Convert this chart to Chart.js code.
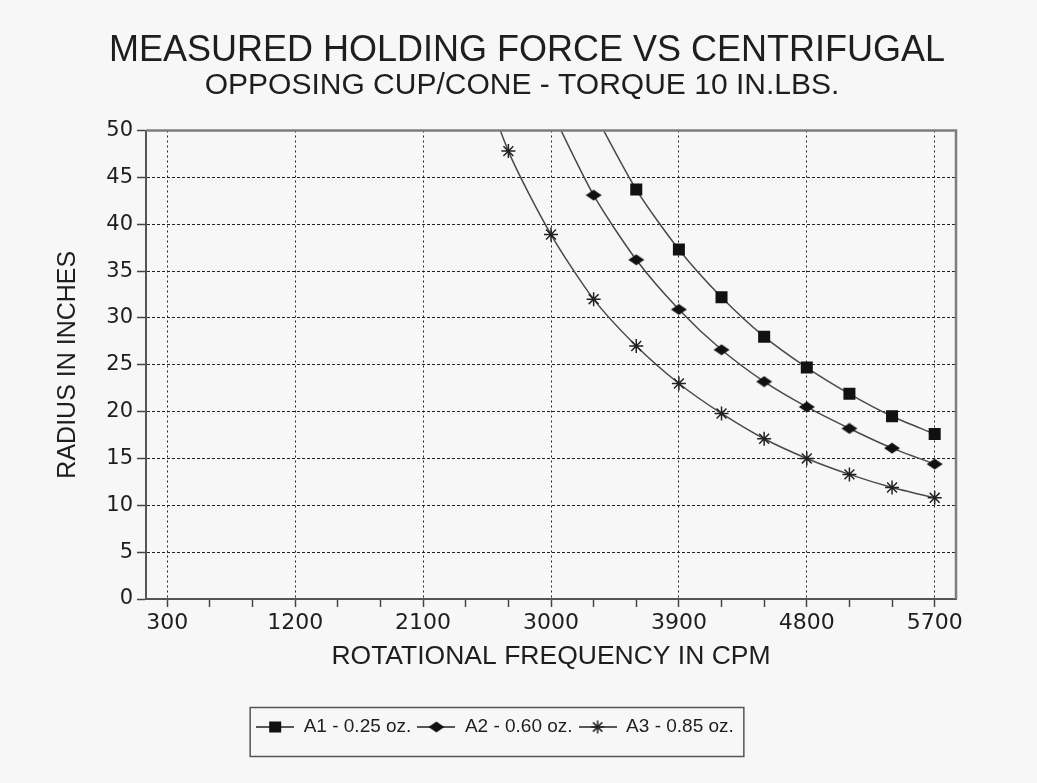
<!DOCTYPE html>
<html>
<head>
<meta charset="utf-8">
<title>Measured holding force vs centrifugal</title>
<script src="https://cdn.jsdelivr.net/npm/chart.js@4.4.1/dist/chart.umd.min.js"></script>
<style>
  html, body { margin: 0; padding: 0; background: #f7f7f7; overflow: hidden; }
  #wrap { width: 1037px; height: 783px; }
</style>
</head>
<body>
<div id="wrap"><canvas id="forceChart"></canvas></div>
<script>
// values
const freqA1 = [3300, 3600, 3900, 4200, 4500, 4800, 5100, 5400, 5700];
const radiusA1 = [52.0, 43.7, 37.3, 32.2, 28.0, 24.7, 21.9, 19.5, 17.6];

const freqA2 = [3000, 3300, 3600, 3900, 4200, 4500, 4800, 5100, 5400, 5700];
const radiusA2 = [52.2, 43.1, 36.2, 30.9, 26.6, 23.2, 20.5, 18.2, 16.1, 14.4];

const freqA3 = [2400, 2700, 3000, 3300, 3600, 3900, 4200, 4500, 4800, 5100, 5400, 5700];
const radiusA3 = [60.5, 47.8, 38.9, 32.0, 27.0, 23.0, 19.8, 17.1, 15.0, 13.3, 11.9, 10.8];

const seriesLabels = ["A1 - 0.25 oz.", "A2 - 0.60 oz.", "A3 - 0.85 oz."];
const xTickLabels = [300, 1200, 2100, 3000, 3900, 4800, 5700];
const xMinorStep = 300;
const yTickLabels = [0, 5, 10, 15, 20, 25, 30, 35, 40, 45, 50];

const titleText = "MEASURED HOLDING FORCE VS CENTRIFUGAL";
const subtitleText = "OPPOSING CUP/CONE - TORQUE 10 IN.LBS.";

const INK = "#1e1e1e";
const LINE = "#4a4a4a";

function drawSquare(ctx, cx, cy) {
  ctx.fillStyle = "#111";
  ctx.fillRect(cx - 6, cy - 5.5, 12, 11);
}

function drawDiamondCross(ctx, cx, cy) {
  ctx.fillStyle = "#111";
  ctx.beginPath();
  ctx.moveTo(cx - 8, cy);
  ctx.lineTo(cx - 3.5, cy - 3);
  ctx.lineTo(cx, cy - 5.5);
  ctx.lineTo(cx + 3.5, cy - 3);
  ctx.lineTo(cx + 8, cy);
  ctx.lineTo(cx + 3.5, cy + 3);
  ctx.lineTo(cx, cy + 5.5);
  ctx.lineTo(cx - 3.5, cy + 3);
  ctx.closePath();
  ctx.fill();
}

function drawStar(ctx, cx, cy) {
  const r = 6.5;
  const d = r * Math.SQRT1_2;
  ctx.strokeStyle = "#222";
  ctx.lineWidth = 1.5;
  ctx.beginPath();
  ctx.moveTo(cx - r, cy); ctx.lineTo(cx + r, cy);
  ctx.moveTo(cx, cy - r); ctx.lineTo(cx, cy + r);
  ctx.moveTo(cx - d, cy - d); ctx.lineTo(cx + d, cy + d);
  ctx.moveTo(cx - d, cy + d); ctx.lineTo(cx + d, cy - d);
  ctx.stroke();
}

function markerCanvas(draw, w, h) {
  const c = document.createElement("canvas");
  c.width = w;
  c.height = h;
  draw(c.getContext("2d"), w / 2, h / 2);
  return c;
}

function legendIcon(draw) {
  const c = document.createElement("canvas");
  c.width = 38;
  c.height = 14;
  const ctx = c.getContext("2d");
  ctx.strokeStyle = "#222";
  ctx.lineWidth = 1.5;
  ctx.beginPath();
  ctx.moveTo(0, 7);
  ctx.lineTo(38, 7);
  ctx.stroke();
  draw(ctx, 19, 7);
  return c;
}

const diamondMarker = markerCanvas(drawDiamondCross, 18, 12);
const legendIcons = [legendIcon(drawSquare), legendIcon(drawDiamondCross), legendIcon(drawStar)];

function toPoints(xs, ys) {
  return xs.map((x, i) => ({ x: x, y: ys[i] }));
}

const backgroundPlugin = {
  id: "pageBackground",
  beforeDraw(chart) {
    const ctx = chart.ctx;
    ctx.save();
    ctx.fillStyle = "#f7f7f7";
    ctx.fillRect(0, 0, chart.width, chart.height);
    ctx.restore();
  },
};

// the titles sit a bit right of the legend centre in the original
const titleShiftPlugin = {
  id: "titleShift",
  afterLayout(chart) {
    chart.boxes.forEach((box) => {
      if (!box.options) return;
      if (box.options.text === titleText) { box.left += 32; box.right += 32; }
      if (box.options.text === subtitleText) { box.left += 27; box.right += 27; }
    });
  },
};

const framePlugin = {
  id: "frame",
  afterDatasetsDraw(chart) {
    const { ctx, chartArea } = chart;
    ctx.save();
    ctx.strokeStyle = "#7d7d7d";
    ctx.lineWidth = 2.5;
    ctx.beginPath();
    ctx.moveTo(chartArea.left, chartArea.top);
    ctx.lineTo(chartArea.right, chartArea.top);
    ctx.lineTo(chartArea.right, chartArea.bottom);
    ctx.stroke();
    ctx.restore();
  },
  afterDraw(chart) {
    const boxes = chart.legend && chart.legend.legendHitBoxes;
    if (!boxes || !boxes.length) return;
    const left = Math.min(...boxes.map((b) => b.left));
    const right = Math.max(...boxes.map((b) => b.left + b.width));
    const top = Math.min(...boxes.map((b) => b.top));
    const bottom = Math.max(...boxes.map((b) => b.top + b.height));
    const ctx = chart.ctx;
    ctx.save();
    ctx.strokeStyle = "#555";
    ctx.lineWidth = 1.5;
    ctx.strokeRect(left - 6, top - 10, right - left + 16, bottom - top + 30);
    ctx.restore();
  },
};

const chart = new Chart(document.getElementById("forceChart"), {
  type: "line",
  data: {
    datasets: [
      {
        label: seriesLabels[0],
        data: toPoints(freqA1, radiusA1),
        borderColor: LINE,
        borderWidth: 1.5,
        pointStyle: "rect",
        pointRadius: 8.5,
        pointBackgroundColor: "#111",
        pointBorderColor: "#111",
        pointBorderWidth: 0,
        tension: 0.25,
      },
      {
        label: seriesLabels[1],
        data: toPoints(freqA2, radiusA2),
        borderColor: LINE,
        borderWidth: 1.5,
        pointStyle: diamondMarker,
        pointRadius: 7,
        tension: 0.25,
      },
      {
        label: seriesLabels[2],
        data: toPoints(freqA3, radiusA3),
        borderColor: LINE,
        borderWidth: 1.5,
        pointStyle: "star",
        pointRadius: 7,
        pointBorderColor: "#222",
        pointBorderWidth: 1.5,
        tension: 0.25,
      },
    ],
  },
  options: {
    responsive: true,
    maintainAspectRatio: false,
    animation: false,
    events: [],
    layout: {
      padding: { left: 34, right: 81, top: 0, bottom: 36.5 },
    },
    plugins: {
      title: {
        display: true,
        text: titleText,
        color: INK,
        font: { family: "'Liberation Sans', Arial, sans-serif", size: 36, weight: "normal", lineHeight: 1 },
        padding: { top: 33.5, bottom: 1.5 },
      },
      subtitle: {
        display: true,
        text: subtitleText,
        color: INK,
        font: { family: "'Liberation Sans', Arial, sans-serif", size: 30, weight: "normal", lineHeight: 1 },
        padding: { top: 0, bottom: 29.5 },
      },
      legend: {
        position: "bottom",
        labels: {
          usePointStyle: true,
          pointStyleWidth: 38,
          padding: 6,
          color: INK,
          font: { family: "'Liberation Sans', Arial, sans-serif", size: 19 },
          generateLabels: (c) =>
            c.data.datasets.map((ds, i) => ({
              text: ds.label,
              pointStyle: legendIcons[i],
              fillStyle: "#111",
              strokeStyle: "#111",
              lineWidth: 0,
              fontColor: INK,
              datasetIndex: i,
              hidden: false,
            })),
        },
      },
      tooltip: { enabled: false },
    },
    scales: {
      x: {
        type: "linear",
        min: 150,
        max: 5850,
        afterFit: (scale) => { scale.height = 112.5; },
        afterBuildTicks: (scale) => {
          const ticks = [];
          xTickLabels.forEach((v, i) => {
            ticks.push({ value: v });
            if (i < xTickLabels.length - 1) {
              ticks.push({ value: v + xMinorStep });
              ticks.push({ value: v + 2 * xMinorStep });
            }
          });
          scale.ticks = ticks;
        },
        ticks: {
          autoSkip: false,
          maxRotation: 0,
          padding: 3,
          color: INK,
          font: { family: "'DejaVu Sans', sans-serif", size: 22 },
          callback: (value) => (xTickLabels.includes(value) ? String(value) : ""),
        },
        grid: {
          color: (ctx) => (ctx.tick && xTickLabels.includes(ctx.tick.value) ? "#222" : "rgba(0,0,0,0)"),
          lineWidth: 1,
          tickLength: 8,
          tickColor: "#444",
          tickWidth: 1.5,
        },
        border: { display: true, color: "#555", width: 2, dash: [2, 3] },
        title: {
          display: true,
          text: "ROTATIONAL FREQUENCY IN CPM",
          color: INK,
          font: { family: "'Liberation Sans', Arial, sans-serif", size: 26.5 },
          padding: { top: 4, bottom: 39 },
        },
      },
      y: {
        min: 0,
        max: 50,
        afterFit: (scale) => { scale.width = 112; },
        ticks: {
          stepSize: 5,
          padding: 4,
          color: INK,
          font: { family: "'DejaVu Sans', sans-serif", size: 21 },
          callback: (value) => (yTickLabels.includes(value) ? String(value) : ""),
        },
        grid: {
          color: "#222",
          lineWidth: 1,
          tickLength: 9,
          tickColor: "#444",
          tickWidth: 1.5,
        },
        border: { display: true, color: "#555", width: 2, dash: [3, 2] },
        title: {
          display: true,
          text: "RADIUS IN INCHES",
          color: INK,
          font: { family: "'Liberation Sans', Arial, sans-serif", size: 25 },
          padding: { top: 19, bottom: 4 },
        },
      },
    },
  },
  plugins: [backgroundPlugin, titleShiftPlugin, framePlugin],
});
</script>
</body>
</html>
